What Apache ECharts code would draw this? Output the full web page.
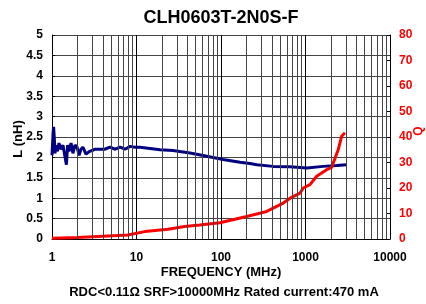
<!DOCTYPE html>
<html>
<head>
<meta charset="utf-8">
<script src="https://cdn.jsdelivr.net/npm/echarts@6/dist/echarts.min.js"></script>
<style>html,body{margin:0;padding:0;background:#fff}#c{width:426px;height:304px}</style>
</head>
<body>
<div id="c"></div>
<script>
// Inductance L (nH) vs frequency (MHz)
const freqL = [1.0, 1.03, 1.045, 1.07, 1.085, 1.115, 1.16, 1.21, 1.28, 1.35, 1.43, 1.48, 1.53, 1.59, 1.68, 1.77, 1.87, 1.98, 2.09, 2.2, 2.33, 2.52, 2.8, 3.23, 3.7, 4.2, 4.85, 5.6, 6.4, 7.3, 8.4, 9.6, 11, 19, 27, 43, 68, 106, 168, 220, 265, 414, 650, 1040, 1620, 2350, 3070];
const lValues = [2.05, 2.6, 2.75, 2.4, 2.1, 2.3, 2.15, 2.35, 2.2, 2.3, 2.0, 1.82, 2.3, 2.15, 2.35, 2.1, 2.3, 2.25, 2.05, 2.2, 2.25, 2.08, 2.15, 2.2, 2.2, 2.2, 2.25, 2.2, 2.25, 2.2, 2.27, 2.25, 2.25, 2.19, 2.17, 2.11, 2.03, 1.95, 1.88, 1.85, 1.82, 1.78, 1.77, 1.74, 1.78, 1.8, 1.82];
// Quality factor Q vs frequency (MHz)
const freqQ = [1.0, 1.55, 2.0, 4.6, 7.9, 12.5, 23.6, 37, 56, 97, 201, 347, 546, 656, 861, 942, 1130, 1356, 1782, 2040, 2135, 2444, 2682, 2932];
const qValues = [0.3, 0.5, 0.6, 1.2, 1.6, 2.9, 3.8, 4.9, 5.5, 6.4, 8.8, 10.8, 14.1, 16.0, 18.0, 20.0, 21.3, 24.6, 27.2, 28.1, 28.5, 35.1, 40.3, 41.7];
const xTicks = [1, 10, 100, 1000, 10000];
const titleText = 'CLH0603T-2N0S-F';
const subText = 'RDC<0.11Ω SRF>10000MHz Rated current:470 mA';
const leftName = 'L (nH)';
const rightName = 'Q';

const minorLines = [];
for (let i = 0; i < xTicks.length - 1; i++) {
  for (let k = 2; k <= 9; k++) minorLines.push({ xAxis: k * xTicks[i] });
}
const FONT = 'Liberation Sans';
const GRIDC = '#444';

const chart = echarts.init(document.getElementById('c'), null, { renderer: 'canvas' });
chart.setOption({
  animation: false,
  backgroundColor: '#fff',
  textStyle: { fontFamily: FONT },
  title: {
    text: titleText, left: 216, top: 4, textAlign: 'center',
    textStyle: { fontFamily: FONT, fontSize: 18, fontWeight: 'bold', color: '#000' }
  },
  graphic: [
    { type: 'text', x: 224, y: 292, style: { text: subText, fill: '#000', font: 'bold 13px "Liberation Sans"', textAlign: 'center', textVerticalAlign: 'middle' } },
    { type: 'text', x: 18, y: 139, rotation: Math.PI / 2, style: { text: leftName, fill: '#000', font: 'bold 13px "Liberation Sans"', textAlign: 'center', textVerticalAlign: 'middle' } },
    { type: 'text', x: 419, y: 131, rotation: Math.PI / 2, style: { text: rightName, fill: '#ff0000', font: 'bold 12px "Liberation Sans"', textAlign: 'center', textVerticalAlign: 'middle' } }
  ],
  grid: { left: 52, right: 36, top: 35, bottom: 65, outerBoundsMode: 'none', containLabel: false },
  xAxis: {
    type: 'log', logBase: 10, min: 1, max: 10000,
    name: 'FREQUENCY (MHz)', nameLocation: 'middle', nameGap: 27, nameMoveOverlap: false,
    nameTextStyle: { fontFamily: FONT, fontSize: 13, fontWeight: 'bold', color: '#000' },
    axisLine: { show: true, lineStyle: { color: '#000', width: 1 } },
    axisTick: { show: false },
    axisLabel: { margin: 13, fontFamily: FONT, fontSize: 12, fontWeight: 'bold', color: '#000',
      formatter: v => String(Math.round(v)) },
    splitLine: { show: true, lineStyle: { color: '#000', width: 1 } }
  },
  yAxis: [
    {
      type: 'value', min: 0, max: 5, interval: 0.5, position: 'left',
      axisLine: { show: true, lineStyle: { color: '#000' } },
      axisTick: { show: true, inside: true, length: 3, lineStyle: { color: '#000' } },
      axisLabel: { margin: 9, fontFamily: FONT, fontSize: 12, fontWeight: 'bold', color: '#000' },
      splitLine: { show: true, lineStyle: { color: GRIDC, width: 1 } }
    },
    {
      type: 'value', min: 0, max: 80, interval: 10, position: 'right',
      axisLine: { show: true, lineStyle: { color: '#000' } },
      axisTick: { show: true, inside: true, length: 3, lineStyle: { color: '#000' } },
      axisLabel: { margin: 9, fontFamily: FONT, fontSize: 12, fontWeight: 'bold', color: '#ff0000' },
      splitLine: { show: false }
    }
  ],
  series: [
    {
      type: 'line', name: 'grid', z: 1, data: [[1, 0]], showSymbol: false, symbol: 'none',
      lineStyle: { opacity: 0 }, silent: true,
      markLine: { silent: true, symbol: 'none', label: { show: false }, animation: false,
        lineStyle: { color: GRIDC, width: 1, type: 'solid' }, emphasis: { disabled: true },
        data: minorLines }
    },
    {
      type: 'line', name: 'L', z: 3, yAxisIndex: 0, showSymbol: false, symbol: 'none',
      data: freqL.map((f, i) => [f, lValues[i]]),
      lineStyle: { color: '#000080', width: 3 }
    },
    {
      type: 'line', name: 'Q', z: 3, yAxisIndex: 1, showSymbol: false, symbol: 'none',
      data: freqQ.map((f, i) => [f, qValues[i]]),
      lineStyle: { color: '#ff0000', width: 3 }
    }
  ]
});
</script>
</body>
</html>
